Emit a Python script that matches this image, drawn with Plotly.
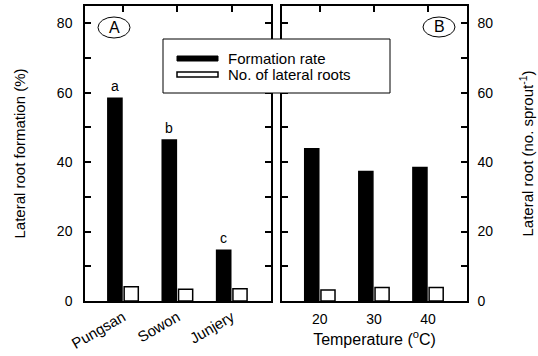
import plotly.graph_objects as go

cultivars = ["Pungsan", "Sowon", "Junjery"]
form_a = [58.4, 46.4, 14.6]
roots_a = [4.1, 3.4, 3.5]
letters_a = ["a", "b", "c"]

temps = ["20", "30", "40"]
form_b = [43.9, 37.3, 38.5]
roots_b = [3.2, 3.9, 3.9]

W, H = 538, 356
L, R, T, B = 85, 467, 6, 301
def px(x): return (x - L) / (R - L)
def py(y): return (B - y) / (B - T)

FONT = "Liberation Sans, Arial, sans-serif"
fig = go.Figure()

bar_common = dict(marker_line_color="black", marker_line_width=1.5, showlegend=False)
fig.add_trace(go.Bar(x=cultivars, y=form_a, offset=-0.28, width=0.26, marker_color="black",
                     xaxis="x", yaxis="y", **bar_common))
fig.add_trace(go.Bar(x=cultivars, y=roots_a, offset=0.02, width=0.26, marker_color="white",
                     xaxis="x", yaxis="y", **bar_common))
fig.add_trace(go.Bar(x=temps, y=form_b, offset=-0.28, width=0.26, marker_color="black",
                     xaxis="x2", yaxis="y2", **bar_common))
fig.add_trace(go.Bar(x=temps, y=roots_b, offset=0.02, width=0.26, marker_color="white",
                     xaxis="x2", yaxis="y2", **bar_common))

xr = [-0.7, 2.72]
yr = [0, 85]

axline = dict(showline=True, linecolor="black", linewidth=1.5, showgrid=False, zeroline=False,
              automargin=False)
tickfont = dict(family=FONT, size=14, color="black")
ytick = dict(range=yr, dtick=20, tick0=0, ticks="inside", ticklen=6, tickwidth=1.5,
             tickcolor="black", mirror="ticks", tickfont=tickfont,
             minor=dict(dtick=10, tick0=0, ticks="inside", ticklen=6, tickwidth=1.5,
                        tickcolor="black", showgrid=False))

fig.update_layout(
    width=W, height=H, margin=dict(l=L, r=W - R, t=T, b=H - B, autoexpand=False),
    paper_bgcolor="white", plot_bgcolor="white",
    barmode="overlay",
    font=dict(family=FONT, color="black"),
    xaxis=dict(domain=[0, px(271)], anchor="y", type="category", range=xr,
               mirror=True, ticks="", tickangle=-30, tickfont=dict(family=FONT, size=15, color="black"),
               ticklabelstandoff=0, **axline),
    xaxis3=dict(overlaying="x", side="top", anchor="y", type="category", range=xr,
                matches="x", ticks="inside", ticklen=6, tickcolor="black", tickwidth=1.5,
                showticklabels=False, showgrid=False, zeroline=False),
    xaxis2=dict(domain=[px(282), 1], anchor="y2", type="category", range=xr,
                mirror=True, ticks="", tickfont=tickfont, ticklabelstandoff=4,
                title=dict(text="Temperature (<sup>o</sup>C)", font=dict(family=FONT, size=16), standoff=8),
                **axline),
    xaxis4=dict(overlaying="x2", side="top", anchor="y2", type="category", range=xr,
                matches="x2", ticks="inside", ticklen=6, tickcolor="black", tickwidth=1.5,
                showticklabels=False, showgrid=False, zeroline=False),
    yaxis=dict(domain=[0, 1], anchor="x", ticklabelstandoff=8,
               title=dict(text="Lateral root formation (%)", font=dict(family=FONT, size=15), standoff=28),
               **ytick, **axline),
    yaxis2=dict(domain=[0, 1], anchor="x2", side="right", ticklabelstandoff=6,
                title=dict(text="Lateral root (no. sprout<sup>-1</sup>)", font=dict(family=FONT, size=15), standoff=30),
                **ytick, **axline),
)

# invisible traces to activate top tick axes
fig.add_trace(go.Bar(x=cultivars, y=[None]*3, xaxis="x3", yaxis="y", showlegend=False, hoverinfo="skip"))
fig.add_trace(go.Bar(x=temps, y=[None]*3, xaxis="x4", yaxis="y2", showlegend=False, hoverinfo="skip"))

annotations = []
for i, (v, l) in enumerate(zip(form_a, letters_a)):
    annotations.append(dict(x=i - 0.15, y=v, xref="x", yref="y", text=l, showarrow=False,
                            xanchor="center", yanchor="bottom", yshift=2, font=dict(family=FONT, size=14)))

shapes = [
    dict(type="circle", xref="paper", yref="paper", x0=px(98), x1=px(130), y0=py(38), y1=py(17),
         line=dict(color="black", width=1)),
    dict(type="circle", xref="paper", yref="paper", x0=px(423), x1=px(455), y0=py(37), y1=py(17),
         line=dict(color="black", width=1)),
    dict(type="rect", xref="paper", yref="paper", x0=px(163), x1=px(390), y0=py(93), y1=py(39),
         line=dict(color="black", width=1), fillcolor="white", layer="above"),
    dict(type="rect", xref="paper", yref="paper", x0=px(177), x1=px(218), y0=py(61), y1=py(56),
         line=dict(color="black", width=1), fillcolor="black", layer="above"),
    dict(type="rect", xref="paper", yref="paper", x0=px(177), x1=px(218), y0=py(77), y1=py(72),
         line=dict(color="black", width=1.5), fillcolor="white", layer="above"),
]
annotations += [
    dict(x=px(114), y=py(27.5), xref="paper", yref="paper", text="A", showarrow=False,
         xanchor="center", yanchor="middle", font=dict(family=FONT, size=16)),
    dict(x=px(439), y=py(27), xref="paper", yref="paper", text="B", showarrow=False,
         xanchor="center", yanchor="middle", font=dict(family=FONT, size=16)),
    dict(x=px(226), y=py(58.5), xref="paper", yref="paper", text="Formation rate", showarrow=False,
         xanchor="left", yanchor="middle", font=dict(family=FONT, size=15)),
    dict(x=px(226), y=py(74.5), xref="paper", yref="paper", text="No. of lateral roots", showarrow=False,
         xanchor="left", yanchor="middle", font=dict(family=FONT, size=15)),
]
fig.update_layout(shapes=shapes, annotations=annotations)

fig.write_html("out.html")
